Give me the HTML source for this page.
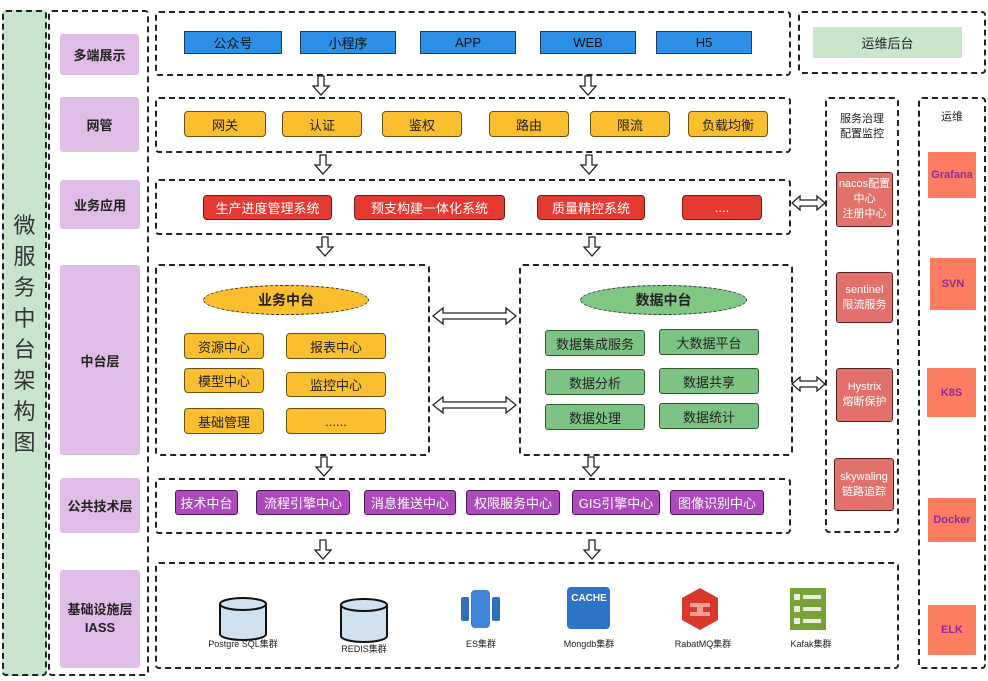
<!DOCTYPE html>
<html><head><meta charset="utf-8"><style>
body{margin:0;width:988px;height:681px;background:#fff;position:relative;overflow:hidden;font-family:"Liberation Sans","Noto Sans CJK SC",sans-serif;}
div{position:absolute;box-sizing:border-box;}
.d{border:2px dashed #222;border-radius:4px;}
.c{display:flex;align-items:center;justify-content:center;text-align:center;}
.p{background:#dfbde6;border-radius:3px;font-size:13px;color:#222;font-weight:bold;}
.b{background:#2b8fe8;border:1px solid #1d3b66;font-size:13px;color:#111;top:31px;height:23px;}
.y{background:#fbbe2e;border:1px solid #6b5010;border-radius:4px;font-size:13px;color:#222;}
.r{background:#e53a33;border:1px solid #7a1a15;border-radius:4px;font-size:13px;color:#fff;top:195px;height:25px;}
.g{background:#7dc383;border:1px solid #2d5a30;border-radius:3px;font-size:13px;color:#222;width:100px;height:26px;}
.pu{background:#ad49bd;border:1px solid #4a1a52;border-radius:3px;font-size:13px;color:#fff;top:490px;height:25px;}
.rd{background:#e2716c;border:1px solid #5a2020;border-radius:3px;font-size:11px;color:#fff;line-height:15px;}
.o{background:#fc7d62;font-size:11px;color:#8e2a9a;font-weight:bold;width:48px;}
.lbl{font-size:9px;color:#222;white-space:nowrap;transform:translateX(-50%);}
</style></head><body>
<svg width="988" height="681" style="position:absolute;left:0;top:0">
<defs>
<g id="da"><path d="M-3,0 V10 H-8 L0,19 L8,10 H3 V0 Z" fill="#fff" stroke="#222" stroke-width="1.3"/></g>
<g id="ha"><path d="M0,0 L10,-8 V-3 H73 V-8 L83,0 L73,8 V3 H10 V8 Z" fill="#fff" stroke="#222" stroke-width="1.3"/></g>
<g id="hs"><path d="M0,0 L8,-7 V-3 H25 V-7 L33,0 L25,7 V3 H8 V7 Z" fill="#fff" stroke="#222" stroke-width="1.3"/></g>
</defs>
<use href="#da" x="321" y="76"/><use href="#da" x="588" y="76"/>
<use href="#da" x="323" y="155"/><use href="#da" x="589" y="155"/>
<use href="#da" x="325" y="237"/><use href="#da" x="592" y="237"/>
<use href="#da" x="324" y="457"/><use href="#da" x="591" y="457"/>
<use href="#da" x="323" y="540"/><use href="#da" x="592" y="540"/>
<use href="#ha" x="433" y="316"/><use href="#ha" x="433" y="405"/>
<use href="#hs" x="792" y="203"/><use href="#hs" x="792" y="384"/>
<!-- infra icons -->
<g stroke="#111" stroke-width="2" fill="#cfe0ee">
<path d="M220,604 V634 A23,6 0 0 0 266,634 V604"/><ellipse cx="243" cy="604" rx="23" ry="6"/>
<path d="M341,605 V636 A23,6 0 0 0 387,636 V605"/><ellipse cx="364" cy="605" rx="23" ry="6"/>
</g>
<g fill="#2f6fc0"><rect x="461" y="597" width="8" height="24" rx="2"/><rect x="492" y="597" width="8" height="24" rx="2"/><rect x="471" y="590" width="19" height="38" rx="4" fill="#3f84d6"/></g>
<rect x="567" y="587" width="43" height="42" rx="4" fill="#2c74c8"/>
<text x="589" y="601" font-size="10" fill="#fff" text-anchor="middle" font-family="Liberation Sans" font-weight="bold">CACHE</text>
<path d="M700,588 L718,598 V620 L700,630 L682,620 V598 Z" fill="#d9382a"/>
<path d="M690,603 H710 V607 H703 V612 H710 V616 H690 V612 H697 V607 H690 Z" fill="#f4a090"/>
<rect x="790" y="588" width="36" height="42" fill="#7aa23a"/>
<g fill="#e8f0d8"><rect x="794" y="594" width="6" height="6"/><rect x="803" y="595" width="18" height="4"/><rect x="794" y="606" width="6" height="6"/><rect x="803" y="607" width="18" height="4"/><rect x="794" y="618" width="6" height="6"/><rect x="803" y="619" width="18" height="4"/></g>
</svg>

<div class="d" style="left:2px;top:10px;width:45px;height:666px;background:#c9e4cc;"></div>
<div style="left:2px;top:210px;width:45px;font-size:22px;line-height:31px;color:#333;text-align:center;">微<br>服<br>务<br>中<br>台<br>架<br>构<br>图</div>
<div class="d" style="left:48px;top:10px;width:101px;height:666px;"></div>
<div class="p c" style="left:60px;top:34px;width:79px;height:41px;">多端展示</div>
<div class="p c" style="left:60px;top:97px;width:79px;height:55px;">网管</div>
<div class="p c" style="left:60px;top:180px;width:80px;height:49px;">业务应用</div>
<div class="p c" style="left:60px;top:265px;width:80px;height:190px;">中台层</div>
<div class="p c" style="left:60px;top:478px;width:80px;height:55px;">公共技术层</div>
<div class="p c" style="left:60px;top:570px;width:80px;height:98px;line-height:18px;">基础设施层<br>IASS</div>

<div class="d" style="left:155px;top:11px;width:636px;height:65px;"></div>
<div class="b c" style="left:184px;width:98px;">公众号</div>
<div class="b c" style="left:300px;width:96px;">小程序</div>
<div class="b c" style="left:420px;width:96px;">APP</div>
<div class="b c" style="left:540px;width:96px;">WEB</div>
<div class="b c" style="left:656px;width:96px;">H5</div>
<div class="d" style="left:798px;top:11px;width:188px;height:63px;"></div>
<div class="c" style="left:813px;top:27px;width:149px;height:31px;background:#c9e6cb;font-size:13px;color:#222;">运维后台</div>

<div class="d" style="left:155px;top:97px;width:636px;height:56px;"></div>
<div class="y c" style="left:184px;top:111px;width:82px;height:26px;">网关</div>
<div class="y c" style="left:282px;top:111px;width:80px;height:26px;">认证</div>
<div class="y c" style="left:382px;top:111px;width:80px;height:26px;">鉴权</div>
<div class="y c" style="left:489px;top:111px;width:80px;height:26px;">路由</div>
<div class="y c" style="left:590px;top:111px;width:80px;height:26px;">限流</div>
<div class="y c" style="left:688px;top:111px;width:80px;height:26px;">负载均衡</div>

<div class="d" style="left:155px;top:179px;width:636px;height:56px;"></div>
<div class="r c" style="left:203px;width:129px;">生产进度管理系统</div>
<div class="r c" style="left:354px;width:151px;">预支构建一体化系统</div>
<div class="r c" style="left:537px;width:108px;">质量精控系统</div>
<div class="r c" style="left:682px;width:80px;">....</div>

<div class="d" style="left:155px;top:264px;width:275px;height:192px;"></div>
<div class="c" style="left:203px;top:285px;width:166px;height:30px;border-radius:50%;border:1px dashed #333;background:#fbbe2e;font-size:14px;font-weight:bold;color:#222;">业务中台</div>
<div class="y c" style="left:184px;top:333px;width:80px;height:26px;">资源中心</div>
<div class="y c" style="left:286px;top:333px;width:100px;height:26px;">报表中心</div>
<div class="y c" style="left:184px;top:368px;width:80px;height:25px;">模型中心</div>
<div class="y c" style="left:286px;top:372px;width:100px;height:25px;">监控中心</div>
<div class="y c" style="left:184px;top:408px;width:80px;height:26px;">基础管理</div>
<div class="y c" style="left:286px;top:408px;width:100px;height:26px;">......</div>

<div class="d" style="left:519px;top:264px;width:274px;height:192px;"></div>
<div class="c" style="left:580px;top:285px;width:167px;height:30px;border-radius:50%;border:1px dashed #333;background:#81c784;font-size:14px;font-weight:bold;color:#222;">数据中台</div>
<div class="g c" style="left:545px;top:330px;">数据集成服务</div>
<div class="g c" style="left:659px;top:329px;">大数据平台</div>
<div class="g c" style="left:545px;top:369px;">数据分析</div>
<div class="g c" style="left:659px;top:368px;">数据共享</div>
<div class="g c" style="left:545px;top:404px;">数据处理</div>
<div class="g c" style="left:659px;top:403px;">数据统计</div>

<div class="d" style="left:155px;top:478px;width:636px;height:56px;"></div>
<div class="pu c" style="left:175px;width:63px;">技术中台</div>
<div class="pu c" style="left:256px;width:94px;">流程引擎中心</div>
<div class="pu c" style="left:364px;width:92px;">消息推送中心</div>
<div class="pu c" style="left:466px;width:94px;">权限服务中心</div>
<div class="pu c" style="left:572px;width:88px;">GIS引擎中心</div>
<div class="pu c" style="left:670px;width:94px;">图像识别中心</div>

<div class="d" style="left:155px;top:562px;width:744px;height:107px;"></div>
<div class="lbl" style="left:243px;top:637px;">Postgre SQL集群</div>
<div class="lbl" style="left:364px;top:642px;">REDIS集群</div>
<div class="lbl" style="left:481px;top:637px;">ES集群</div>
<div class="lbl" style="left:589px;top:637px;">Mongdb集群</div>
<div class="lbl" style="left:703px;top:637px;">RabatMQ集群</div>
<div class="lbl" style="left:811px;top:637px;">Kafak集群</div>

<div class="d" style="left:825px;top:97px;width:74px;height:436px;"></div>
<div style="left:825px;top:112px;width:74px;text-align:center;font-size:11px;line-height:15px;color:#222;">服务治理<br>配置监控</div>
<div class="rd c" style="left:836px;top:172px;width:57px;height:55px;">nacos配置<br>中心<br>注册中心</div>
<div class="rd c" style="left:836px;top:272px;width:57px;height:51px;">sentinel<br>限流服务</div>
<div class="rd c" style="left:836px;top:368px;width:57px;height:54px;">Hystrix<br>熔断保护</div>
<div class="rd c" style="left:834px;top:458px;width:60px;height:53px;">skywaling<br>链路追踪</div>

<div class="d" style="left:918px;top:97px;width:68px;height:572px;"></div>
<div style="left:918px;top:108px;width:68px;text-align:center;font-size:11px;color:#222;">运维</div>
<div class="o c" style="left:928px;top:152px;height:46px;">Grafana</div>
<div class="o c" style="left:930px;top:258px;height:52px;width:46px;">SVN</div>
<div class="o c" style="left:927px;top:368px;height:49px;width:49px;">K8S</div>
<div class="o c" style="left:928px;top:498px;height:44px;">Docker</div>
<div class="o c" style="left:928px;top:605px;height:50px;">ELK</div>
</body></html>
